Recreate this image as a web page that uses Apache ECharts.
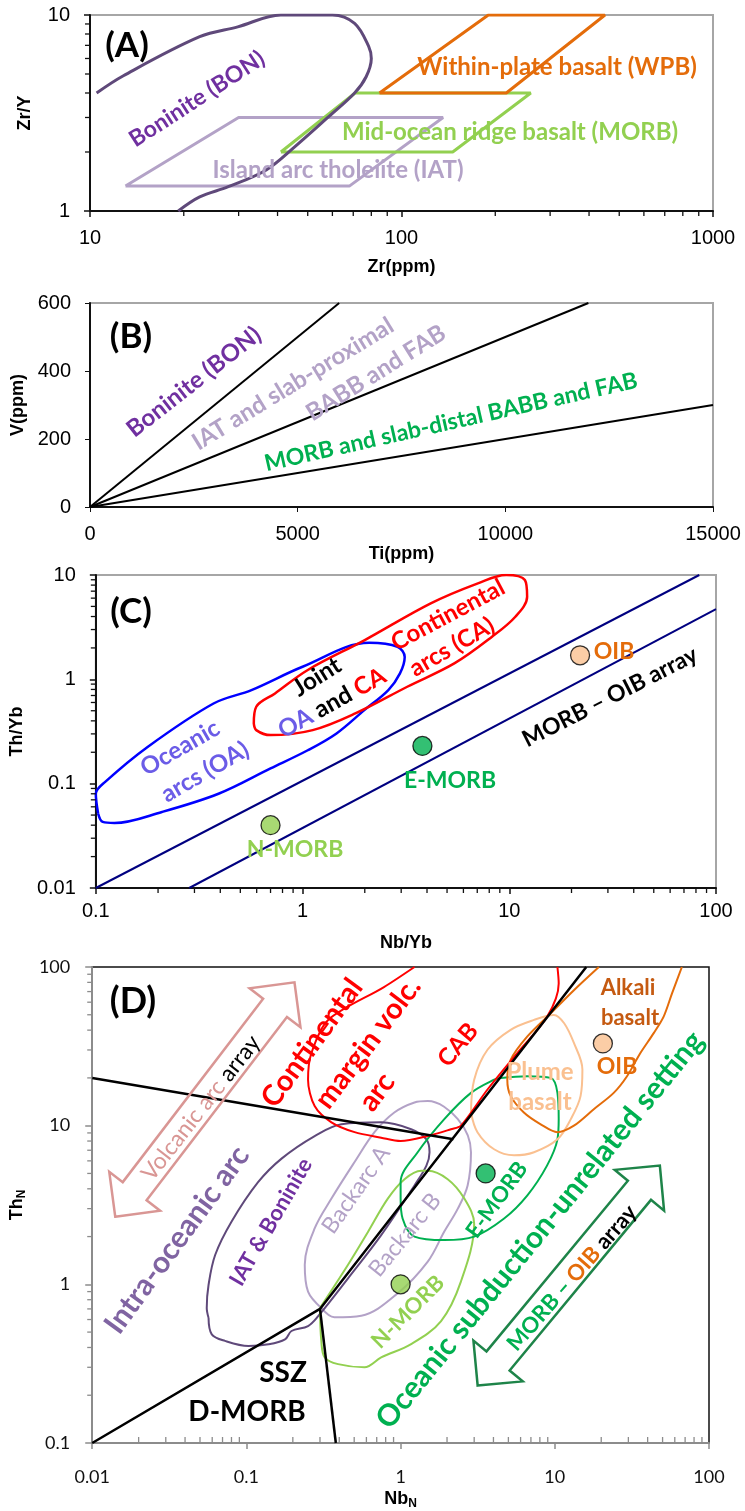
<!DOCTYPE html>
<html>
<head>
<meta charset="utf-8">
<script src="https://cdn.jsdelivr.net/npm/echarts@6/dist/echarts.min.js"></script>
<style>
  html, body { margin: 0; padding: 0; background: #fff; }
  #chart { width: 745px; height: 1511px; }
</style>
</head>
<body>
<div id="chart"></div>
<script>
// ---------- (A) Zr/Y vs Zr (ppm) ----------
const zrWPB  = [[85, 4], [217, 4], [450, 10], [190, 10], [85, 4]];
const zrMORB = [[41, 2], [146, 2], [260, 4], [71, 4], [41, 2]];
const zrIAT  = [[13, 1.34], [68, 1.34], [136, 3], [30, 3], [13, 1.34]];
const zrBON  = [[10.5, 4], [12.8, 4.9], [22.5, 7.75], [29.8, 8.7], [41, 10], [60, 10], [70.7, 9.06],
                [78.5, 6.9], [80, 6], [77, 4.84], [70.7, 4], [58, 3], [45.5, 2.13], [36.8, 1.62],
                [27.8, 1.33], [22.5, 1.18], [19.2, 1]];

// ---------- (B) V vs Ti (ppm): Ti/V = 10, 20, 50 ----------
const tiBON  = [[0, 0], [6000, 600]];
const tiIAT  = [[0, 0], [12000, 600]];
const tiMORB = [[0, 0], [15000, 300]];

// ---------- (C) Th/Yb vs Nb/Yb ----------
const arrayUpper = [[0.1, 0.01], [83, 10]];
const arrayLower = [[0.283, 0.01], [100, 4.7]];
const oaField = [[0.1026, 0.0517], [0.1, 0.08], [0.111, 0.104], [0.178, 0.225], [0.371, 0.587], [0.566, 0.789],
                 [1.0, 1.32], [2.1, 2.24], [2.88, 2.05], [3.12, 1.64], [2.96, 1.14], [2.6, 0.789], [1.99, 0.507],
                 [1.46, 0.303], [1.06, 0.209], [0.7, 0.14], [0.392, 0.08], [0.209, 0.0536], [0.123, 0.042],
                 [0.108, 0.043], [0.1026, 0.0517]];
const caField = [[0.581, 0.378], [0.597, 0.546], [0.736, 0.733], [1.06, 1.23], [2.0, 2.38], [4.17, 5.35],
                 [7.05, 8.32], [9.66, 10], [11.9, 8.95], [12.2, 6.2], [10.7, 3.98], [8.25, 2.56], [5.42, 1.42],
                 [3.21, 0.849], [1.8, 0.471], [1.12, 0.326], [0.7, 0.292], [0.597, 0.326], [0.581, 0.378]];
const cNMORB = [0.7, 0.04];
const cEMORB = [3.8, 0.23];
const cOIB   = [22, 1.7];

// ---------- (D) Th_N vs Nb_N ----------
const dDiagonal = [[0.01, 0.1], [0.3, 0.7], [16, 100]];
const dUpper    = [[0.01, 20], [2.2, 8.2]];
const dLower    = [[0.3, 0.7], [0.38, 0.1]];
const dIATBON = [[0.0568, 0.615], [0.0596, 0.484], [0.0726, 0.44], [0.103, 0.409], [0.139, 0.419], [0.178, 0.45],
                 [0.196, 0.508], [0.251, 0.546], [0.292, 0.63], [0.456, 1.09], [0.748, 2.04], [1.23, 4.2],
                 [1.47, 5.6], [1.54, 6.8], [1.47, 8.2], [1.17, 9.5], [0.748, 10.5], [0.413, 10.2], [0.277, 8.6],
                 [0.169, 6.2], [0.119, 4.4], [0.08, 2.48], [0.0627, 1.53], [0.0568, 0.99], [0.0553, 0.71],
                 [0.0568, 0.615]];
const dBackarc = [[0.306, 0.71], [0.372, 0.62], [0.556, 0.634], [0.96, 0.88], [1.5, 1.39], [1.92, 2.15],
                  [2.35, 3.0], [2.72, 4.2], [2.86, 6.8], [2.35, 11], [1.5, 14.3], [1.23, 14], [0.91, 12.1],
                  [0.677, 9.1], [0.503, 5.9], [0.356, 3.47], [0.277, 2.25], [0.239, 1.33], [0.251, 0.9],
                  [0.306, 0.71]];
const dNMORBField = [[0.3, 0.71], [0.456, 1.33], [0.614, 2.14], [0.826, 3.47], [1.06, 4.6], [1.36, 5.2],
                     [1.5, 5.2], [2.02, 4.6], [2.59, 3.47], [3.0, 2.4], [2.46, 1.04], [1.83, 0.587],
                     [1.17, 0.42], [0.748, 0.346], [0.583, 0.3], [0.393, 0.314], [0.322, 0.346],
                     [0.306, 0.44], [0.3, 0.71]];
const dEMORBField = [[1.0, 3.47], [1.0, 4.4], [1.29, 6.8], [1.92, 11], [2.86, 16.1], [4.04, 19.5], [4.47, 20],
                     [6.64, 20.5], [9.4, 20], [10.4, 16.1], [10.6, 11], [10.4, 8.2], [8.9, 5.6], [6.64, 3.64],
                     [4.69, 2.6], [3.0, 2.0], [1.92, 1.9], [1.23, 2.0], [1.03, 2.6], [1.0, 3.47]];
const dCAB = [[1.23, 100], [0.78, 74.7], [0.339, 46.4], [0.264, 28.7], [0.251, 19.5], [0.277, 13.3],
              [0.356, 10.5], [0.503, 9.1], [0.748, 8.4], [1.0, 8.0], [1.5, 8.6], [2.12, 9.5], [2.46, 10],
              [3.66, 16.9], [5.71, 28.7], [8.93, 48.7], [10.6, 78.7], [10.4, 100]];
const dPlume = [[2.86, 12.1], [3.0, 19.5], [3.66, 30.1], [5.17, 40.2], [7.33, 46.4], [9.87, 49.9], [11.5, 44.2],
                [13.3, 33.2], [15.1, 22.6], [14.7, 15.4], [12.7, 11], [10.4, 8.2], [7.33, 6.8], [5.44, 6.5],
                [4.04, 7.1], [3.15, 9.1], [2.86, 12.1]];
const dAlkali = [[19.3, 100], [13.3, 71.4], [9.4, 51], [6.64, 36.5], [5.17, 26], [4.92, 19.5], [5.17, 15.4],
                 [6.3, 12.1], [8.1, 10.2], [10.4, 9.1], [13.3, 10], [17.9, 12.7], [24.1, 16.1], [29.4, 20.5],
                 [35.9, 28.7], [43.8, 38.3], [50.8, 48.7], [57.5, 68], [66.7, 100]];
const dNMORB = [1, 1];
const dEMORB = [3.56, 5];
const dOIB   = [20.5, 33];
const volcanicArcArrow = [[0.0141, 2.67], [0.205, 80]];
const morbOibArrow     = [[3.16, 0.23], [48, 5.6]];

// ---------- styling ----------
const SANS = '"Liberation Sans", Arial, sans-serif';
const CAL  = 'Lato, "Open Sans", sans-serif';
const C = {
  bonLine: '#5F497A', bonText: '#7030A0', wpb: '#E46C0A', morb: '#92D050', iat: '#B3A2C7',
  green: '#00B050', navy: '#000080', oa: '#0000FF', oaText: '#6B5CE7', red: '#FF0000',
  oib: '#FAC090', orange: '#E46C0A', alkaliText: '#C55A11', intra: '#8064A2',
  volc: '#D99694', arrowGreen: '#1E8449'
};

const fmt = v => String(Number(Number(v).toPrecision(6)));

// 2..9 x 10^k between two decades of a log axis
function logMinorTicks(lo, hi) {
  const out = [];
  for (let e = Math.round(Math.log10(lo)); e < Math.round(Math.log10(hi)); e++) {
    for (let m = 2; m <= 9; m++) out.push(Number((m * Math.pow(10, e)).toPrecision(6)));
  }
  return out;
}

function minorTicks(gi, axis, vals, fixed, len, inward, color) {
  return {
    type: 'custom', xAxisIndex: gi, yAxisIndex: gi, clip: false, silent: true, z: 3,
    data: vals.map(v => axis === 'x' ? [v, fixed] : [fixed, v]),
    renderItem(params, api) {
      const p = api.coord([api.value(0), api.value(1)]);
      let x2 = p[0], y2 = p[1];
      if (axis === 'x') y2 += inward ? -len : len; else x2 += inward ? len : -len;
      return { type: 'line', shape: { x1: p[0], y1: p[1], x2, y2 }, style: { stroke: color, lineWidth: 1.3 } };
    }
  };
}

function curve(gi, data, color, width, smooth) {
  return {
    type: 'line', xAxisIndex: gi, yAxisIndex: gi, data, symbol: 'none', silent: true,
    smooth: smooth || false, lineStyle: { color, width }, z: 2
  };
}

function dots(gi, pts) {
  return {
    type: 'scatter', xAxisIndex: gi, yAxisIndex: gi, symbolSize: 19, z: 5, silent: true,
    itemStyle: { borderColor: '#000', borderWidth: 1.3 },
    data: pts.map(p => ({ value: p[0], itemStyle: { color: p[1] } }))
  };
}

// hollow double-headed arrow between two data points
function arrow(gi, ends, color) {
  return {
    type: 'custom', xAxisIndex: gi, yAxisIndex: gi, clip: false, silent: true, z: 4,
    data: [[ends[0][0], ends[0][1], ends[1][0], ends[1][1]]],
    encode: { x: [0, 2], y: [1, 3] },
    renderItem(params, api) {
      const a = api.coord([api.value(0), api.value(1)]);
      const b = api.coord([api.value(2), api.value(3)]);
      const dx = b[0] - a[0], dy = b[1] - a[1], L = Math.hypot(dx, dy);
      const ux = dx / L, uy = dy / L, nx = -uy, ny = ux;
      const w = 15, hw = 32, hl = 32;
      const P = (p, s, t) => [p[0] + ux * s + nx * t, p[1] + uy * s + ny * t];
      const pts = [a, P(a, hl, hw), P(a, hl, w), P(b, -hl, w), P(b, -hl, hw), b,
                   P(b, -hl, -hw), P(b, -hl, -w), P(a, hl, -w), P(a, hl, -hw)];
      return { type: 'polygon', shape: { points: pts }, style: { fill: 'none', stroke: color, lineWidth: 2.5 } };
    }
  };
}

function note(x, y, text, color, size, rot, weight, rich) {
  return {
    type: 'text', x, y, rotation: (rot || 0) * Math.PI / 180, z: 50, silent: true,
    style: {
      text, fill: color, fontSize: size, fontFamily: CAL, fontWeight: weight || 'bold',
      align: 'center', verticalAlign: 'middle', rich
    }
  };
}
function richPart(color, size, weight) {
  return { fill: color, fontSize: size, fontFamily: CAL, fontWeight: weight || 'bold' };
}

const nameStyle = { fontFamily: SANS, fontWeight: 'bold', fontSize: 18, color: '#000' };
const blackLine = { lineStyle: { color: '#111', width: 2 } };
const greyLine  = { lineStyle: { color: '#8c8c8c', width: 2 } };

function logAxis(gi, min, max, extra) {
  return Object.assign({
    gridIndex: gi, type: 'log', logBase: 10, min, max,
    splitLine: { show: false },
    axisLine: blackLine,
    axisTick: { show: true, length: 6, inside: false, lineStyle: { color: '#111', width: 1.5 } },
    axisLabel: { fontFamily: SANS, fontSize: 20, color: '#000', formatter: fmt }
  }, extra);
}

const option = {
  animation: false,
  backgroundColor: '#fff',
  grid: [
    { left: 90, top: 15,  width: 623, height: 196, show: true, borderColor: '#a6a6a6', borderWidth: 2, backgroundColor: '#fff' },
    { left: 90, top: 303, width: 623, height: 204, show: true, borderColor: '#a6a6a6', borderWidth: 2, backgroundColor: '#fff' },
    { left: 90, top: 575, width: 626, height: 313, show: true, borderColor: '#a6a6a6', borderWidth: 2, backgroundColor: '#fff' },
    { left: 90, top: 967, width: 619, height: 479, show: true, borderColor: '#111', borderWidth: 1.5, backgroundColor: '#fff' }
  ],
  xAxis: [
    logAxis(0, 10, 1000, { name: 'Zr(ppm)', nameLocation: 'middle', nameGap: 47, nameTextStyle: nameStyle,
      axisLabel: { fontFamily: SANS, fontSize: 20, color: '#000', formatter: fmt, margin: 17 } }),
    { gridIndex: 1, type: 'value', min: 0, max: 15000, interval: 5000, splitLine: { show: false },
      axisLine: blackLine, axisTick: { show: true, length: 5, lineStyle: { color: '#111' } },
      axisLabel: { fontFamily: SANS, fontSize: 20, color: '#000', margin: 17, formatter: v => String(v) },
      name: 'Ti(ppm)', nameLocation: 'middle', nameGap: 33, nameTextStyle: nameStyle },
    logAxis(2, 0.1, 100, { name: 'Nb/Yb', nameLocation: 'middle', nameGap: 46, nameTextStyle: nameStyle,
      axisLabel: { fontFamily: SANS, fontSize: 20, color: '#000', formatter: fmt, margin: 13 } }),
    logAxis(3, 0.01, 100, {
      axisLine: greyLine,
      axisTick: { show: true, length: 6, lineStyle: { color: '#8c8c8c', width: 1.5 } },
      axisLabel: { fontFamily: CAL, fontSize: 18, color: '#111', formatter: fmt, margin: 25 },
      name: '{a|Nb}{b|N}', nameLocation: 'middle', nameGap: 45,
      nameTextStyle: { rich: {
        a: { fontFamily: SANS, fontWeight: 'bold', fontSize: 18, color: '#000' },
        b: { fontFamily: SANS, fontWeight: 'bold', fontSize: 12, color: '#000', padding: [10, 0, 0, 0] } } } })
  ],
  yAxis: [
    logAxis(0, 1, 10, { name: 'Zr/Y', nameLocation: 'middle', nameGap: 56, nameTextStyle: nameStyle,
      axisLabel: { fontFamily: SANS, fontSize: 20, color: '#000', formatter: fmt, margin: 20 } }),
    { gridIndex: 1, type: 'value', min: 0, max: 600, interval: 200, splitLine: { show: false },
      axisLine: blackLine, axisTick: { show: true, length: 5, lineStyle: { color: '#111' } },
      axisLabel: { fontFamily: SANS, fontSize: 20, color: '#000', margin: 19 },
      name: 'V(ppm)', nameLocation: 'middle', nameGap: 60, nameTextStyle: nameStyle },
    logAxis(2, 0.01, 10, { name: 'Th/Yb', nameLocation: 'middle', nameGap: 58, nameTextStyle: nameStyle,
      axisLabel: { fontFamily: SANS, fontSize: 20, color: '#000', formatter: fmt, margin: 20 } }),
    logAxis(3, 0.1, 100, {
      axisLine: greyLine,
      axisTick: { show: true, length: 7, lineStyle: { color: '#8c8c8c', width: 1.5 } },
      axisLabel: { fontFamily: CAL, fontSize: 18, color: '#111', formatter: fmt, margin: 22 },
      name: '{a|Th}{b|N}', nameLocation: 'middle', nameGap: 47,
      nameTextStyle: { rich: {
        a: { fontFamily: SANS, fontWeight: 'bold', fontSize: 18, color: '#000' },
        b: { fontFamily: SANS, fontWeight: 'bold', fontSize: 12, color: '#000', padding: [10, 0, 0, 0] } } } })
  ],
  series: [
    // (A)
    minorTicks(0, 'x', logMinorTicks(10, 1000), 1, 5, false, '#111'),
    minorTicks(0, 'y', logMinorTicks(1, 10), 10, 5, false, '#111'),
    curve(0, zrIAT, C.iat, 3),
    curve(0, zrMORB, C.morb, 3),
    curve(0, zrWPB, C.wpb, 3),
    curve(0, zrBON, C.bonLine, 3, 0.35),
    // (B)
    curve(1, tiBON, '#000', 2),
    curve(1, tiIAT, '#000', 2),
    curve(1, tiMORB, '#000', 2),
    // (C)
    minorTicks(2, 'x', logMinorTicks(0.1, 100), 0.01, 5, false, '#111'),
    minorTicks(2, 'y', logMinorTicks(0.01, 10), 0.1, 5, false, '#111'),
    curve(2, arrayUpper, C.navy, 2),
    curve(2, arrayLower, C.navy, 2),
    curve(2, oaField, C.oa, 2.5, 0.35),
    curve(2, caField, C.red, 2.5, 0.35),
    dots(2, [[cNMORB, C.morb], [cEMORB, C.green], [cOIB, C.oib]]),
    // (D)
    minorTicks(3, 'x', logMinorTicks(0.01, 100), 0.1, 6, true, '#8c8c8c'),
    minorTicks(3, 'y', logMinorTicks(0.1, 100), 0.01, 5, false, '#8c8c8c'),
    arrow(3, volcanicArcArrow, C.volc),
    arrow(3, morbOibArrow, C.arrowGreen),
    curve(3, dBackarc, C.iat, 2, 0.35),
    curve(3, dIATBON, C.bonLine, 2, 0.35),
    curve(3, dNMORBField, C.morb, 2, 0.35),
    curve(3, dEMORBField, C.green, 2, 0.35),
    curve(3, dPlume, C.oib, 2, 0.35),
    curve(3, dAlkali, C.orange, 2, 0.3),
    curve(3, dCAB, C.red, 2, 0.3),
    curve(3, dUpper, '#000', 2.5),
    curve(3, dLower, '#000', 2.5),
    curve(3, dDiagonal, '#000', 2.5),
    dots(3, [[dNMORB, C.morb], [dEMORB, C.green], [dOIB, C.oib]])
  ],
  graphic: [
    // (A)
    note(127, 46, '(A)', '#000', 35),
    note(197, 99, 'Boninite (BON)', C.bonText, 23, 33),
    note(557, 67, 'Within-plate basalt (WPB)', C.wpb, 24),
    note(510, 132, 'Mid-ocean ridge basalt (MORB)', C.morb, 24),
    note(338, 170, 'Island arc tholeiite (IAT)', C.iat, 24),
    // (B)
    note(131, 337, '(B)', '#000', 35),
    note(194, 382, 'Boninite (BON)', C.bonText, 24, 38),
    note(293, 384, 'IAT and slab-proximal', C.iat, 24, 31.5),
    note(376, 373, 'BABB and FAB', C.iat, 24, 32),
    note(451, 422, 'MORB and slab-distal BABB and FAB', C.green, 23, 12.7),
    // (C)
    note(131, 612, '(C)', '#000', 35),
    note(180, 748, 'Oceanic', C.oaText, 24, 30),
    note(205, 772, 'arcs (OA)', C.oaText, 24, 30),
    note(317, 677, 'Joint', '#000', 24, 32),
    note(332, 703, '{a|OA} {b|and} {c|CA}', '#000', 24, 29, 'bold',
      { a: richPart(C.oaText, 24), b: richPart('#000', 24), c: richPart(C.red, 24) }),
    note(448, 615, 'Continental', C.red, 24, 28),
    note(452, 647, 'arcs (CA)', C.red, 24, 30),
    note(614, 652, 'OIB', C.orange, 23),
    note(450, 781, 'E-MORB', C.green, 23),
    note(295, 850, 'N-MORB', C.morb, 23),
    note(610, 697, 'MORB – OIB array', '#000', 23, 27),
    // (D)
    note(133, 1001, '(D)', '#000', 36),
    note(201, 1108, '{a|Volcanic arc} {b|array}', C.volc, 23, 52, 'normal',
      { a: richPart(C.volc, 23, 'normal'), b: richPart('#000', 23, 'normal') }),
    note(312, 1043, 'Continental', C.red, 29, 54),
    note(368, 1043, 'margin volc.', C.red, 29, 53),
    note(377, 1092, 'arc', C.red, 29, 53),
    note(458, 1045, 'CAB', C.red, 24, 50),
    note(177, 1240, 'Intra-oceanic arc', C.intra, 30, 54),
    note(271, 1222, 'IAT & Boninite', C.bonText, 22, 60),
    note(356, 1190, 'Backarc A', C.iat, 23, 55, 'normal'),
    note(405, 1235, 'Backarc B', C.iat, 23, 51, 'normal'),
    note(408, 1312, 'N-MORB', C.morb, 22, 45),
    note(497, 1200, 'E-MORB', C.green, 22, 54),
    note(540, 1072, 'Plume', C.oib, 24),
    note(540, 1102, 'basalt', C.oib, 24),
    note(628, 988, 'Alkali', C.alkaliText, 22),
    note(630, 1018, 'basalt', C.alkaliText, 22),
    note(617, 1067, 'OIB', C.orange, 23),
    note(540, 1230, 'Oceanic subduction-unrelated setting', C.green, 30, 51),
    note(572, 1278, '{a|MORB – }{b|OIB}{c| array}', '#000', 22, 49, 'bold',
      { a: richPart(C.green, 22), b: richPart(C.orange, 22), c: richPart('#000', 22) }),
    note(283, 1373, 'SSZ', '#000', 28),
    note(247, 1412, 'D-MORB', '#000', 28)
  ]
};

const chart = echarts.init(document.getElementById('chart'), null, { renderer: 'canvas' });
chart.setOption(option);
</script>
</body>
</html>
